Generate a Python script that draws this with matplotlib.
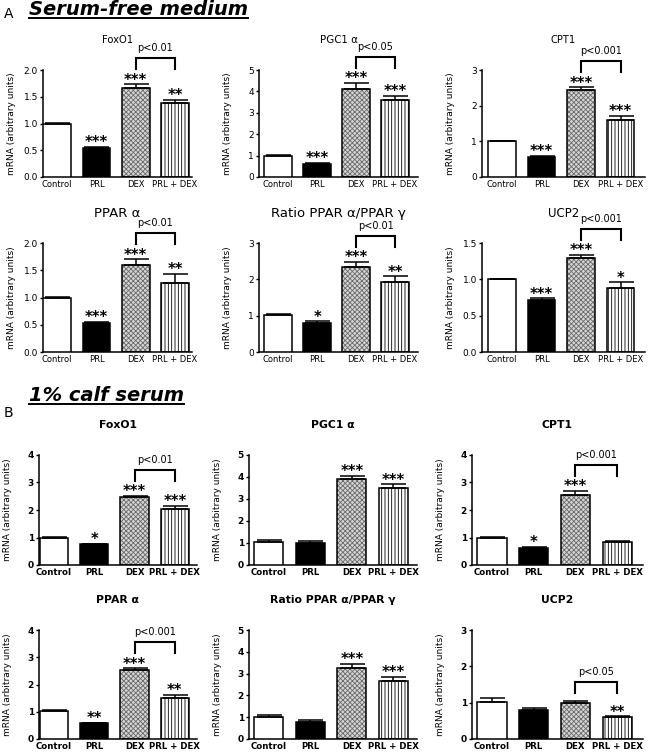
import matplotlib
matplotlib.use('Agg')
import matplotlib.pyplot as plt
import numpy as np
from matplotlib.lines import Line2D

plt.rcParams['font.family'] = ['DejaVu Sans']
plt.rcParams['hatch.linewidth'] = 0.6

# ---------------- data ----------------
groups = ['Control', 'PRL', 'DEX', 'PRL + DEX']

# Section A: serum-free medium
a_titles = ['FoxO1', 'PGC1 α', 'CPT1', 'PPAR α', 'Ratio PPAR α/PPAR γ', 'UCP2']
a_ymax = [2.0, 5, 3, 2.0, 3, 1.5]
a_ystep = [0.5, 1, 1, 0.5, 1, 0.5]
a_foxo1 = [1.00, 0.54, 1.66, 1.38]
a_foxo1_err = [0.01, 0.03, 0.07, 0.06]
a_pgc1 = [1.00, 0.62, 4.10, 3.60]
a_pgc1_err = [0.02, 0.03, 0.30, 0.20]
a_cpt1 = [1.00, 0.57, 2.45, 1.60]
a_cpt1_err = [0.01, 0.03, 0.06, 0.12]
a_ppara = [1.00, 0.53, 1.60, 1.27]
a_ppara_err = [0.01, 0.02, 0.10, 0.17]
a_ratio = [1.02, 0.80, 2.33, 1.93]
a_ratio_err = [0.02, 0.04, 0.15, 0.15]
a_ucp2 = [1.00, 0.72, 1.30, 0.88]
a_ucp2_err = [0.01, 0.02, 0.04, 0.08]
a_stars = [['', '***', '***', '**'],
           ['', '***', '***', '***'],
           ['', '***', '***', '***'],
           ['', '***', '***', '**'],
           ['', '*', '***', '**'],
           ['', '***', '***', '*']]
a_pvals = ['p<0.01', 'p<0.05', 'p<0.001', 'p<0.01', 'p<0.01', 'p<0.001']

# Section B: 1% calf serum
b_titles = ['FoxO1', 'PGC1 α', 'CPT1', 'PPAR α', 'Ratio PPAR α/PPAR γ', 'UCP2']
b_ymax = [4, 5, 4, 4, 5, 3]
b_ystep = [1, 1, 1, 1, 1, 1]
b_foxo1 = [1.00, 0.77, 2.47, 2.03]
b_foxo1_err = [0.01, 0.01, 0.05, 0.12]
b_pgc1 = [1.03, 0.98, 3.90, 3.50]
b_pgc1_err = [0.12, 0.10, 0.15, 0.17]
b_cpt1 = [1.00, 0.63, 2.55, 0.82]
b_cpt1_err = [0.03, 0.03, 0.15, 0.07]
b_ppara = [1.02, 0.57, 2.55, 1.52]
b_ppara_err = [0.05, 0.02, 0.04, 0.10]
b_ratio = [1.02, 0.80, 3.25, 2.65]
b_ratio_err = [0.07, 0.05, 0.20, 0.20]
b_ucp2 = [1.02, 0.80, 1.00, 0.60]
b_ucp2_err = [0.10, 0.05, 0.05, 0.02]
b_stars = [['', '*', '***', '***'],
           ['', '', '***', '***'],
           ['', '*', '***', ''],
           ['', '**', '***', '**'],
           ['', '', '***', '***'],
           ['', '', '', '**']]
b_pvals = ['p<0.01', None, 'p<0.001', 'p<0.001', None, 'p<0.05']

a_means = [a_foxo1, a_pgc1, a_cpt1, a_ppara, a_ratio, a_ucp2]
a_errs = [a_foxo1_err, a_pgc1_err, a_cpt1_err, a_ppara_err, a_ratio_err, a_ucp2_err]
b_means = [b_foxo1, b_pgc1, b_cpt1, b_ppara, b_ratio, b_ucp2]
b_errs = [b_foxo1_err, b_pgc1_err, b_cpt1_err, b_ppara_err, b_ratio_err, b_ucp2_err]

# ---------------- layout (pixels) ----------------
W, H = 648, 752
fig = plt.figure(figsize=(W / 100, H / 100), dpi=100)
PT = 0.72  # points per pixel

a_cols = [(43, 192), (259, 418), (482, 645)]
a_rows = [(70, 177), (243, 352)]
a_xlims = [(-0.36, 3.43), (-0.49, 3.59), (-0.51, 3.62)]
a_tsize = [7.2, 7.4, 7.2, 9.5, 9.5, 8.5]
b_cols = [(39, 197), (249, 417), (472, 643)]
b_rows = [(455, 565), (630, 739)]
b_xlims = [(-0.37, 3.55), (-0.48, 3.57), (-0.48, 3.62)]
b_tsize = [7.8] * 6

face = ['white', 'black', '#d6d6d6', 'white']
hatch_col = [None, None, '#6a6a6a', 'black']
hatches = [None, None, 'xxxxxxx', '|||||']


def panel(rect_px, xlim, title, tsize, means, errs, stars, pval, ymax, ystep, bold):
    (l, r), (t, b) = rect_px
    ax = fig.add_axes([l / W, 1 - b / H, (r - l) / W, (b - t) / H])
    hpx = b - t
    x = np.arange(len(groups))
    for i in range(len(groups)):
        if hatches[i]:
            ax.bar(x[i], means[i], 0.7, color=face[i], edgecolor=hatch_col[i],
                   hatch=hatches[i], linewidth=0, zorder=2)
            ax.bar(x[i], means[i], 0.7, fill=False, edgecolor='black',
                   linewidth=1.1, zorder=3)
        else:
            ax.bar(x[i], means[i], 0.7, color=face[i], edgecolor='black',
                   linewidth=1.1, zorder=3)
    ax.errorbar(x, means, yerr=[np.zeros(len(groups)), errs], fmt='none',
                ecolor='black', elinewidth=1.1, capsize=9, capthick=1.1,
                zorder=4, clip_on=False)
    ax.set_xlim(*xlim)
    ax.set_ylim(0, ymax)
    ticks = np.arange(0, ymax + ystep / 2, ystep)
    ax.set_yticks(ticks)
    if ystep < 1:
        ax.set_yticklabels(['%.1f' % v for v in ticks])
    else:
        ax.set_yticklabels(['%d' % v for v in ticks])
    ax.set_xticks(x)
    ax.set_xticklabels(groups)
    wt = 'bold' if bold else 'normal'
    ax.tick_params(axis='y', direction='out', length=2.5, width=1.0,
                   labelsize=6.5, pad=1.2)
    ax.tick_params(axis='x', length=0, labelsize=6 if not bold else 6.2,
                   pad=2.5)
    for lb in ax.get_xticklabels() + ax.get_yticklabels():
        lb.set_fontweight(wt)
    for s in ['top', 'right']:
        ax.spines[s].set_visible(False)
    for s in ['left', 'bottom']:
        ax.spines[s].set_linewidth(1.1)
    ax.set_ylabel('mRNA (arbitrary units)', fontsize=6.5)
    ax.yaxis.set_label_coords(-27 / (r - l), 0.5)
    ax.annotate(title, xy=(0.5, 1), xycoords='axes fraction',
                xytext=(0, 30 * PT), textcoords='offset points',
                ha='center', va='center', fontsize=tsize, fontweight=wt)
    u = ymax / hpx  # data units per pixel
    for i in range(len(groups)):
        if stars[i]:
            ax.annotate(stars[i], xy=(x[i], means[i] + errs[i]),
                        xytext=(0, 3.0), textcoords='offset points',
                        ha='center', va='center', fontsize=10.5,
                        fontweight='bold', annotation_clip=False)
    if pval:
        base = max(means[i] + errs[i] + (15 if stars[i] else 8) * u
                   for i in (2, 3))
        top = base + 11 * u
        ax.add_line(Line2D([x[2], x[2], x[3], x[3]], [base, top, top, base],
                           color='black', lw=1.5, clip_on=False,
                           solid_joinstyle='miter'))
        ax.text((x[2] + x[3]) / 2, top + 10 * u, pval, ha='center',
                va='center', fontsize=7, clip_on=False)
    return ax


for k in range(6):
    rr, cc = divmod(k, 3)
    panel((a_cols[cc], a_rows[rr]), a_xlims[cc], a_titles[k], a_tsize[k],
          a_means[k], a_errs[k], a_stars[k], a_pvals[k], a_ymax[k],
          a_ystep[k], False)
    panel((b_cols[cc], b_rows[rr]), b_xlims[cc], b_titles[k], b_tsize[k],
          b_means[k], b_errs[k], b_stars[k], b_pvals[k], b_ymax[k],
          b_ystep[k], True)

# headers
fig.text(4 / W, 1 - 18 / H, 'A', fontsize=10, va='baseline', ha='left')
fig.text(4 / W, 1 - 417 / H, 'B', fontsize=10, va='baseline', ha='left')
h1 = fig.text(29 / W, 1 - 15 / H, 'Serum-free medium', fontsize=14,
              fontweight='bold', fontstyle='italic', va='baseline', ha='left')
h2 = fig.text(29 / W, 1 - 401 / H, '1% calf serum', fontsize=14,
              fontweight='bold', fontstyle='italic', va='baseline', ha='left')
fig.canvas.draw()
for txt, base_px in ((h1, 15), (h2, 401)):
    bb = txt.get_window_extent()
    yl = 1 - (base_px + 2.5) / H
    fig.add_artist(Line2D([bb.x0 / W, bb.x1 / W], [yl, yl],
                          transform=fig.transFigure, color='black', lw=1.4))

fig.savefig('out.png', dpi=100)
